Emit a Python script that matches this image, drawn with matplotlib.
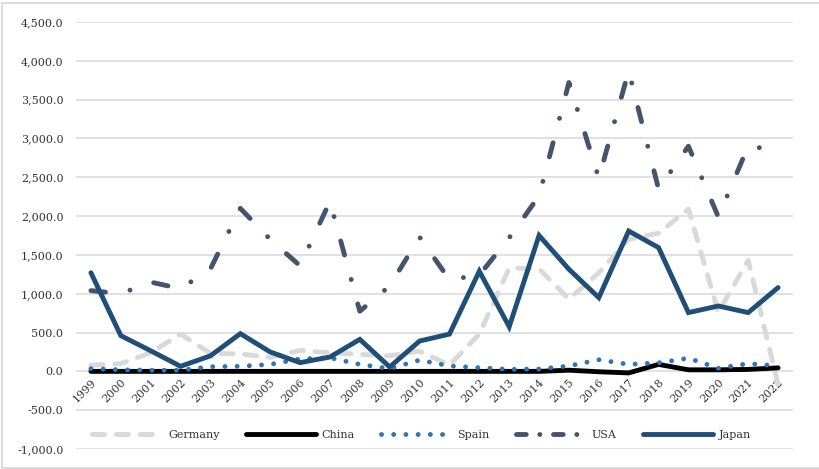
import matplotlib
matplotlib.use("Agg")
import matplotlib.pyplot as plt
from matplotlib.lines import Line2D
from matplotlib.patches import Rectangle
from matplotlib.ticker import FuncFormatter, MultipleLocator

plt.rcParams["font.family"] = ["DejaVu Serif"]

years = [str(y) for y in range(1999, 2023)]
germany = [80, 100, 240, 480, 230, 225, 180, 270, 240, 220, 200, 260,
           80, 480, 1330, 1320, 930, 1270, 1700, 1780, 2090, 760, 1430, -170]
china = [0] * 16 + [15, -5, -20, 90, 20, 20, 25, 45]
spain = [35, 20, 15, 15, 60, 65, 90, 160, 175, 90, 35, 145,
         70, 47, 26, 30, 70, 150, 90, 110, 170, 40, 100, 70]
usa = [1040, 1000, 1150, 1065, 1320, 2100, 1700, 1360, 2190, 775, 1100, 1730,
       1180, 1240, 1720, 2260, 3720, 2490, 3870, 2350, 2900, 1990, 2900, 2850]
japan = [1270, 460, 265, 65, 200, 486, 250, 112, 185, 412, 56, 391,
         480, 1290, 575, 1750, 1315, 950, 1808, 1594, 757, 842, 757, 1079]

text_color = "#333333"
grid_color = "#d9d9d9"
lw = 3.5

styles = [
    ("Germany", germany, dict(color="#d9d9d9", dashes=(2.5, 2.4))),
    ("China", china, dict(color="#000000")),
    ("Spain", spain, dict(color="#2e75b6", dashes=(0.01, 2.5))),
    ("USA", usa, dict(color="#44546a", dashes=(3.0, 5.2, 0.01, 5.2))),
    ("Japan", japan, dict(color="#1f4e79")),
]

fig = plt.figure(figsize=(8.19, 4.69), dpi=100)
ax = fig.add_axes([76 / 819, 1 - 449 / 469, 717 / 819, 427 / 469])

x = list(range(len(years)))
for name, vals, st in styles:
    ax.plot(x, vals, lw=lw, solid_capstyle="round", dash_capstyle="round",
            solid_joinstyle="miter", label=name, **st)

ax.set_xlim(-0.5, len(years) - 0.5)
ax.set_ylim(-1000, 4500)
ax.yaxis.set_major_locator(MultipleLocator(500))
ax.yaxis.set_major_formatter(FuncFormatter(lambda v, p: f"{v:,.1f}"))
ax.yaxis.grid(True, color=grid_color, lw=1.1)
ax.set_axisbelow(True)

for s in ax.spines.values():
    s.set_visible(False)
ax.spines["bottom"].set_position(("data", 0))

ax.set_xticks(x)
ax.set_xticklabels(years, rotation=45, ha="right", va="top",
                   rotation_mode="anchor")
ax.tick_params(axis="x", length=0, pad=4, labelsize=8, labelcolor=text_color)
ax.tick_params(axis="y", length=0, pad=9, labelsize=8, labelcolor=text_color)

# legend proxies, USA pattern is tighter in the key
handles = []
for name, vals, st in styles:
    st = dict(st)
    if name == "USA":
        st["dashes"] = (2.0, 2.8, 0.01, 2.8)
    handles.append(Line2D([], [], lw=lw, solid_capstyle="round",
                          dash_capstyle="round", **st))
ax.legend(handles, [s[0] for s in styles], loc="center left",
          bbox_to_anchor=(92 / 819, 1 - 435 / 469), bbox_transform=fig.transFigure,
          ncol=5, frameon=False, fontsize=8, labelcolor=text_color,
          handlelength=6.3, handletextpad=0.55, columnspacing=2.35,
          borderpad=0, borderaxespad=0)

fig.patches.append(Rectangle((2 / 819, 1 / 469), 1.2, 1 - 4 / 469,
                             transform=fig.transFigure, fill=False,
                             edgecolor=grid_color, lw=1.3))

fig.savefig("out.png", dpi=100)
